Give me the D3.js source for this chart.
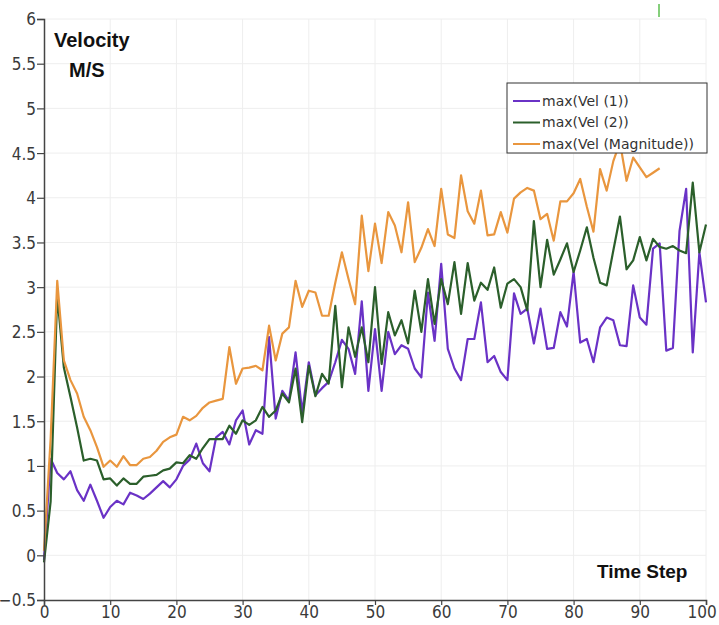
<!DOCTYPE html>
<html>
<head>
<meta charset="utf-8">
<script src="https://cdn.jsdelivr.net/npm/d3@7"></script>
<style>
  body { margin: 0; background: #fff; }
  .tick text { font-family: "Liberation Sans Narrow", "DejaVu Sans Condensed", sans-serif; font-size: 17px; fill: #3a3a3a; }
  .title { font-family: "Liberation Sans", Arial, sans-serif; font-weight: bold; fill: #111; }
  .legend text { font-family: "DejaVu Sans", sans-serif; font-size: 14px; fill: #333; }
</style>
</head>
<body>
<div class="vis-linechart"></div>
<script>
// max velocity per time step
const vel1 = [-0.05, 1.08, 0.92, 0.85, 0.94, 0.73, 0.61, 0.79, 0.61, 0.42,
  0.54, 0.61, 0.57, 0.70, 0.67, 0.63, 0.69, 0.76, 0.83, 0.76,
  0.85, 1.00, 1.07, 1.25, 1.03, 0.94, 1.32, 1.38, 1.24, 1.51,
  1.62, 1.24, 1.40, 1.36, 2.44, 1.53, 1.84, 1.73, 2.27, 1.60,
  2.16, 1.79, 1.87, 1.94, 2.16, 2.41, 2.31, 2.03, 2.84, 1.84,
  2.53, 1.84, 2.50, 2.25, 2.35, 2.31, 2.09, 1.99, 2.94, 2.40,
  3.26, 2.31, 2.09, 1.96, 2.42, 2.42, 2.83, 2.16, 2.23, 2.05,
  1.96, 2.93, 2.70, 2.76, 2.37, 2.76, 2.31, 2.32, 2.72, 2.56,
  3.17, 2.38, 2.42, 2.16, 2.55, 2.66, 2.63, 2.35, 2.34, 3.02,
  2.66, 2.58, 3.43, 3.49, 2.29, 2.32, 3.63, 4.10, 2.27, 3.39,
  2.83];
const vel2 = [-0.08, 0.60, 2.92, 2.10, 1.77, 1.43, 1.06, 1.08, 1.06, 0.85,
  0.86, 0.78, 0.86, 0.80, 0.80, 0.88, 0.89, 0.90, 0.95, 0.97,
  1.04, 1.03, 1.12, 1.08, 1.20, 1.30, 1.30, 1.30, 1.45, 1.36,
  1.51, 1.46, 1.51, 1.66, 1.55, 1.62, 1.81, 1.71, 2.09, 1.49,
  2.12, 1.78, 2.03, 1.92, 2.79, 1.88, 2.55, 2.22, 2.55, 2.16,
  3.00, 2.14, 2.72, 2.46, 2.63, 2.37, 2.96, 2.50, 3.09, 2.59,
  3.09, 2.81, 3.28, 2.70, 3.27, 2.85, 3.05, 2.97, 3.22, 2.77,
  3.04, 3.09, 3.00, 2.74, 3.74, 3.00, 3.53, 3.14, 3.31, 3.49,
  3.17, 3.41, 3.67, 3.33, 3.05, 3.02, 3.41, 3.79, 3.20, 3.30,
  3.56, 3.30, 3.54, 3.45, 3.43, 3.46, 3.41, 3.38, 4.17, 3.39,
  3.70];
const velMag = [0.05, 1.30, 3.07, 2.18, 1.96, 1.81, 1.55, 1.40, 1.21, 0.99,
  1.06, 0.99, 1.11, 1.01, 1.01, 1.08, 1.10, 1.17, 1.27, 1.32,
  1.35, 1.55, 1.51, 1.56, 1.65, 1.71, 1.73, 1.75, 2.33, 1.92,
  2.09, 2.10, 2.12, 2.07, 2.57, 2.18, 2.48, 2.55, 3.07, 2.78,
  2.96, 2.94, 2.68, 2.68, 3.05, 3.39, 3.09, 2.81, 3.80, 3.18,
  3.71, 3.27, 3.84, 3.69, 3.39, 3.95, 3.28, 3.44, 3.65, 3.46,
  4.10, 3.59, 3.55, 4.25, 3.85, 3.71, 4.08, 3.58, 3.59, 3.84,
  3.61, 3.99, 4.06, 4.11, 4.08, 3.76, 3.82, 3.52, 3.96, 3.96,
  4.05, 4.21, 3.90, 3.62, 4.32, 4.08, 4.41, 4.62, 4.19, 4.45,
  4.34, 4.23, 4.28, 4.33];

const seriesNames = ['max(Vel (1))', 'max(Vel (2))', 'max(Vel (Magnitude))'];
const seriesValues = [vel1, vel2, velMag];
const xTicks = [0, 10, 20, 30, 40, 50, 60, 70, 80, 90, 100];
const yTicks = [-0.5, 0, 0.5, 1, 1.5, 2, 2.5, 3, 3.5, 4, 4.5, 5, 5.5, 6];

const W = 719, H = 625;
const margin = { top: 19, right: 13, bottom: 25, left: 44 };

const svg = d3.select('.vis-linechart')
    .append('svg')
    .attr('width', W)
    .attr('height', H);

const x = d3.scaleLinear().domain([0, 100]).range([margin.left, W - margin.right]);
const y = d3.scaleLinear().domain([-0.5, 6]).range([H - margin.bottom, margin.top]);

const color = d3.scaleOrdinal()
    .domain(seriesNames)
    .range(['#6a32c6', '#2b5f2b', '#e9963e']);

// grid
svg.append('g')
    .selectAll('line.vgrid')
    .data(xTicks.slice(1))
    .enter().append('line')
    .attr('x1', d => x(d)).attr('x2', d => x(d))
    .attr('y1', y(-0.5)).attr('y2', y(6))
    .attr('stroke', '#eeeeee');

svg.append('g')
    .selectAll('line.hgrid')
    .data(yTicks.slice(1))
    .enter().append('line')
    .attr('x1', x(0)).attr('x2', x(100))
    .attr('y1', d => y(d)).attr('y2', d => y(d))
    .attr('stroke', '#eeeeee');

// lines
const line = d3.line()
    .x((d, i) => x(i))
    .y(d => y(d));

svg.append('g')
    .selectAll('path')
    .data(seriesValues)
    .enter().append('path')
    .attr('d', d => line(d))
    .attr('fill', 'none')
    .attr('stroke', (d, i) => color(seriesNames[i]))
    .attr('stroke-width', 2.2)
    .attr('stroke-linejoin', 'round');

// axes
const yAxis = svg.append('g')
    .attr('transform', 'translate(' + x(0) + ',0)')
    .call(d3.axisLeft(y).tickValues(yTicks).tickFormat(d3.format('')).tickSize(7).tickPadding(1));

const xAxis = svg.append('g')
    .attr('transform', 'translate(0,' + y(-0.5) + ')')
    .call(d3.axisBottom(x).tickValues(xTicks).tickSize(5).tickPadding(1));

[xAxis, yAxis].forEach(a => {
    a.select('.domain').attr('stroke', '#444').attr('stroke-width', 1.5);
    a.selectAll('.tick line').attr('stroke', '#444').attr('stroke-width', 1.2);
});
yAxis.selectAll('.tick text').attr('dy', '0.35em');
// last x label sits at the picture edge, keep it inside
xAxis.selectAll('.tick text').filter(d => d === 100).attr('text-anchor', 'end').attr('dx', '0.6em');

// titles
svg.append('text').attr('class', 'title')
    .attr('x', 54).attr('y', 47).style('font-size', '20px').text('Velocity');
svg.append('text').attr('class', 'title')
    .attr('x', 69).attr('y', 77).style('font-size', '20px').text('M/S');
svg.append('text').attr('class', 'title')
    .attr('x', 597).attr('y', 578).style('font-size', '19px').text('Time Step');

// legend
const legend = svg.append('g').attr('class', 'legend')
    .attr('transform', 'translate(507,83)');

legend.append('rect')
    .attr('width', 200).attr('height', 70)
    .attr('fill', '#fff')
    .attr('stroke', '#333')
    .attr('stroke-width', 1);

const legendG = legend.selectAll('.entry')
    .data(seriesNames)
    .enter().append('g')
    .attr('class', 'entry')
    .attr('transform', (d, i) => 'translate(0,' + (18 + i * 21.5) + ')');

legendG.append('line')
    .attr('x1', 6).attr('x2', 33)
    .attr('stroke', d => color(d))
    .attr('stroke-width', 2);

legendG.append('text')
    .attr('x', 35).attr('dy', '0.35em')
    .text(d => d);

// small green mark at the top edge of the picture
svg.append('line')
    .attr('x1', 659).attr('x2', 659)
    .attr('y1', 4).attr('y2', 17)
    .attr('stroke', '#5cbf4f')
    .attr('stroke-width', 1.5);
</script>
</body>
</html>
